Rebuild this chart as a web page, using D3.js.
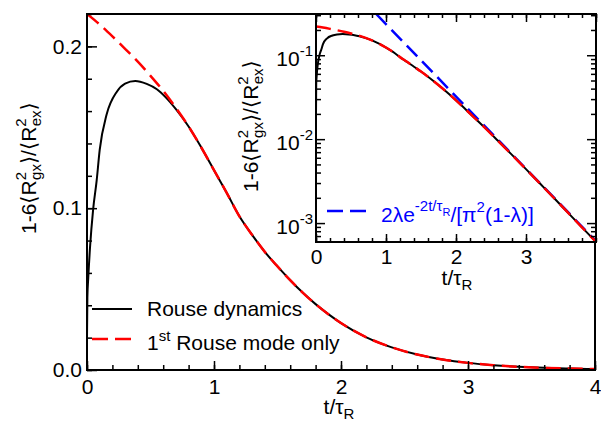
<!DOCTYPE html>
<html>
<head>
<meta charset="utf-8">
<script src="https://cdn.jsdelivr.net/npm/d3@7"></script>
<style>
body { margin: 0; background: #fff; }
text { font-family: "Liberation Sans", Arial, "DejaVu Sans", sans-serif; fill: #000; }
</style>
</head>
<body>
<script>
"use strict";

// curves (t / tau_R, value)
var tHeadBlack = [0, 0.003, 0.01, 0.024, 0.048, 0.076, 0.1, 0.155, 0.235, 0.3, 0.38, 0.47, 0.55, 0.62, 0.7];
var headBlack = [0.02, 0.045, 0.057, 0.076, 0.099, 0.117, 0.136, 0.158, 0.172, 0.177, 0.1786, 0.1768, 0.1735, 0.1685, 0.1612];

var tHeadRed = [0, 0.1, 0.2, 0.3, 0.4, 0.5, 0.6, 0.7];
var headRed = [0.220, 0.2135, 0.2062, 0.1985, 0.1905, 0.1818, 0.1725, 0.162];

// both curves lie on top of each other from here on
var tTail = [0.8, 0.9, 1.0, 1.1, 1.2, 1.3, 1.4, 1.5, 1.6, 1.7, 1.8, 1.9, 2.0, 2.2, 2.4, 2.6, 2.8, 3.0, 3.2, 3.4, 3.6, 3.8, 4.0];
var tailVals = [0.1505, 0.1375, 0.1235, 0.1095, 0.095, 0.0835, 0.073, 0.064, 0.0555, 0.0477, 0.0407, 0.0345, 0.029,
	0.0202, 0.014, 0.00956, 0.0065, 0.0044, 0.00296, 0.00199, 0.00133, 0.00089, 0.000598];

// asymptote, straight on the log axis
var tBlue = [0.86, 4.0];
var blueVals = [0.31, 0.00061];

var mainXTicks = [0, 1, 2, 3, 4];
var mainYTicks = [0, 0.1, 0.2];
var insetXTicks = [0, 1, 2, 3];
var insetYTicks = [1e-3, 1e-2, 1e-1];
var insetYExp = ["-3", "-2", "-1"];

var FS = 21;   // main font size
var SS = 15;   // sub / superscript size

var blackPts = zipPts(tHeadBlack.concat(tTail), headBlack.concat(tailVals));
var redPts = zipPts(tHeadRed.concat(tTail), headRed.concat(tailVals));
var bluePts = zipPts(tBlue, blueVals);

function zipPts(ts, vs) {
	return ts.map(function (t, i) { return {t: t, v: vs[i]}; });
}

var svg = d3.select("body").append("svg")
	.attr("width", 601)
	.attr("height", 421);

// ---------- main plot ----------
var x = d3.scaleLinear().domain([0, 4]).range([87, 595]);
var y = d3.scaleLinear().domain([0, 0.22]).range([370, 14]);

svg.append("clipPath").attr("id", "clipMain")
	.append("rect").attr("x", 87).attr("y", 14).attr("width", 508).attr("height", 356);

var lineMain = d3.line()
	.x(function (d) { return x(d.t); })
	.y(function (d) { return y(d.v); })
	.curve(d3.curveMonotoneX);

var mainG = svg.append("g").attr("clip-path", "url(#clipMain)");
mainG.append("path").datum(blackPts)
	.attr("d", lineMain).attr("fill", "none")
	.attr("stroke", "#000").attr("stroke-width", 2);
mainG.append("path").datum(redPts)
	.attr("d", lineMain).attr("fill", "none")
	.attr("stroke", "#f00").attr("stroke-width", 2.5)
	.attr("stroke-dasharray", "15,7");

// ticks
var xMinor = d3.range(0, 4.001, 0.2);
var yMinor = d3.range(0, 0.2201, 0.02);

svg.append("g").attr("transform", "translate(0,370)")
	.call(d3.axisBottom(x).tickValues(xMinor).tickSize(-5).tickFormat(""))
	.call(cleanAxis);
svg.append("g").attr("transform", "translate(0,370)")
	.call(d3.axisBottom(x).tickValues(mainXTicks).tickSize(-9).tickPadding(9).tickFormat(d3.format("d")))
	.call(cleanAxis)
	.selectAll("text").attr("font-size", FS);

svg.append("g").attr("transform", "translate(87,0)")
	.call(d3.axisLeft(y).tickValues(yMinor).tickSize(-5).tickFormat(""))
	.call(cleanAxis);
svg.append("g").attr("transform", "translate(87,0)")
	.call(d3.axisLeft(y).tickValues(mainYTicks).tickSize(-10).tickPadding(5).tickFormat(d3.format(".1f")))
	.call(cleanAxis)
	.selectAll("text").attr("font-size", FS);

function cleanAxis(g) {
	g.select(".domain").remove();
	g.selectAll("line").attr("stroke", "#000").attr("stroke-width", 1.5);
	g.selectAll("text").attr("font-family", null).attr("fill", "#000");
}

svg.append("rect")
	.attr("x", 87).attr("y", 14).attr("width", 508).attr("height", 356)
	.attr("fill", "none").attr("stroke", "#000").attr("stroke-width", 2);

// axis titles
var xTitle = svg.append("text").attr("x", 339).attr("y", 414)
	.attr("text-anchor", "middle").attr("font-size", FS);
tauTitle(xTitle);

function tauTitle(t) {
	t.append("tspan").text("t/\u03c4");
	t.append("tspan").attr("font-size", SS).attr("dy", 5).text("R");
}

var yTitle = svg.append("text")
	.attr("transform", "translate(36,234) rotate(-90)")
	.attr("font-size", FS);
rgLabel(yTitle);

function rgLabel(t) {
	t.append("tspan").text("1-6\u27e8R");
	t.append("tspan").attr("font-size", SS).attr("dy", -10).text("2");
	t.append("tspan").attr("font-size", SS).attr("dx", -8).attr("dy", 15).text("gx");
	t.append("tspan").attr("dy", -5).text("\u27e9/\u27e8R");
	t.append("tspan").attr("font-size", SS).attr("dy", -10).text("2");
	t.append("tspan").attr("font-size", SS).attr("dx", -8).attr("dy", 15).text("ex");
	t.append("tspan").attr("dy", -5).text("\u27e9");
}

// legend
svg.append("line").attr("x1", 92).attr("x2", 132).attr("y1", 309).attr("y2", 309)
	.attr("stroke", "#000").attr("stroke-width", 2);
svg.append("text").attr("x", 147).attr("y", 316).attr("font-size", FS).text("Rouse dynamics");

svg.append("line").attr("x1", 92).attr("x2", 132).attr("y1", 339).attr("y2", 339)
	.attr("stroke", "#f00").attr("stroke-width", 2.5).attr("stroke-dasharray", "16,7");
var leg2 = svg.append("text").attr("x", 147).attr("y", 350).attr("font-size", FS);
leg2.append("tspan").text("1");
leg2.append("tspan").attr("font-size", SS).attr("dy", -9).text("st");
leg2.append("tspan").attr("dy", 9).text(" Rouse mode only");

// ---------- inset ----------
var xi = d3.scaleLinear().domain([0, 4]).range([316, 596]);
var yi = d3.scaleLog().domain([5.95e-4, 0.31]).range([242, 14]);

svg.append("rect")
	.attr("x", 316).attr("y", 14).attr("width", 280).attr("height", 228)
	.attr("fill", "#fff");

svg.append("clipPath").attr("id", "clipInset")
	.append("rect").attr("x", 316).attr("y", 14).attr("width", 280).attr("height", 228);

var lineInset = d3.line()
	.x(function (d) { return xi(d.t); })
	.y(function (d) { return yi(d.v); })
	.curve(d3.curveMonotoneX);

var insetG = svg.append("g").attr("clip-path", "url(#clipInset)");
insetG.append("path").datum(bluePts)
	.attr("d", lineInset).attr("fill", "none")
	.attr("stroke", "#00f").attr("stroke-width", 2.5)
	.attr("stroke-dasharray", "15,7");
insetG.append("path").datum(blackPts)
	.attr("d", lineInset).attr("fill", "none")
	.attr("stroke", "#000").attr("stroke-width", 2);
insetG.append("path").datum(redPts)
	.attr("d", lineInset).attr("fill", "none")
	.attr("stroke", "#f00").attr("stroke-width", 2.5)
	.attr("stroke-dasharray", "15,7");

// log minor ticks 2..9 in every decade
var logMinor = [];
[1e-4, 1e-3, 1e-2, 1e-1].forEach(function (dec) {
	for (var k = 2; k <= 9; k++) {
		var v = dec * k;
		if (v >= 5.95e-4 && v <= 0.31) logMinor.push(v);
	}
});

svg.append("g").attr("transform", "translate(0,242)")
	.call(d3.axisBottom(xi).tickValues(xMinor).tickSize(-4).tickFormat(""))
	.call(cleanAxis);
svg.append("g").attr("transform", "translate(0,242)")
	.call(d3.axisBottom(xi).tickValues(insetXTicks).tickSize(-8).tickPadding(7).tickFormat(d3.format("d")))
	.call(cleanAxis)
	.selectAll("text").attr("font-size", FS);
svg.append("g").attr("transform", "translate(0,14)")
	.call(d3.axisTop(xi).tickValues(xMinor).tickSize(-4).tickFormat(""))
	.call(cleanAxis);
svg.append("g").attr("transform", "translate(0,14)")
	.call(d3.axisTop(xi).tickValues(mainXTicks).tickSize(-8).tickFormat(""))
	.call(cleanAxis);

svg.append("g").attr("transform", "translate(316,0)")
	.call(d3.axisLeft(yi).tickValues(logMinor).tickSize(-5).tickFormat(""))
	.call(cleanAxis);
svg.append("g").attr("transform", "translate(316,0)")
	.call(d3.axisLeft(yi).tickValues(insetYTicks).tickSize(-9).tickFormat(""))
	.call(cleanAxis);
svg.append("g").attr("transform", "translate(596,0)")
	.call(d3.axisRight(yi).tickValues(logMinor).tickSize(-5).tickFormat(""))
	.call(cleanAxis);
svg.append("g").attr("transform", "translate(596,0)")
	.call(d3.axisRight(yi).tickValues(insetYTicks).tickSize(-9).tickFormat(""))
	.call(cleanAxis);

var yiLabels = svg.append("g").selectAll("text")
	.data(insetYTicks)
	.join("text")
	.attr("x", 313)
	.attr("y", function (d) { return yi(d) + 11; })
	.attr("text-anchor", "end")
	.attr("font-size", FS);
yiLabels.append("tspan").text("10");
yiLabels.append("tspan").attr("font-size", SS).attr("dy", -10)
	.text(function (d, i) { return insetYExp[i]; });

svg.append("rect")
	.attr("x", 316).attr("y", 14).attr("width", 280).attr("height", 228)
	.attr("fill", "none").attr("stroke", "#000").attr("stroke-width", 2);

var xiTitle = svg.append("text").attr("x", 457).attr("y", 285)
	.attr("text-anchor", "middle").attr("font-size", FS);
tauTitle(xiTitle);

var yiTitle = svg.append("text")
	.attr("transform", "translate(258,192) rotate(-90)")
	.attr("font-size", FS);
rgLabel(yiTitle);

// inset legend
svg.append("line").attr("x1", 327).attr("x2", 368).attr("y1", 211).attr("y2", 211)
	.attr("stroke", "#00f").attr("stroke-width", 2.5).attr("stroke-dasharray", "16,7");
var leg3 = svg.append("text").attr("x", 381).attr("y", 222).attr("font-size", FS)
	.style("fill", "#00f");
leg3.append("tspan").text("2\u03bbe");
leg3.append("tspan").attr("font-size", SS).attr("dy", -11).text("-2t/\u03c4");
leg3.append("tspan").attr("font-size", 11).attr("dy", 5).text("R");
leg3.append("tspan").attr("dy", 6).text("/[\u03c0");
leg3.append("tspan").attr("font-size", SS).attr("dy", -10).text("2");
leg3.append("tspan").attr("dy", 10).text("(1-\u03bb)]");
</script>
</body>
</html>
